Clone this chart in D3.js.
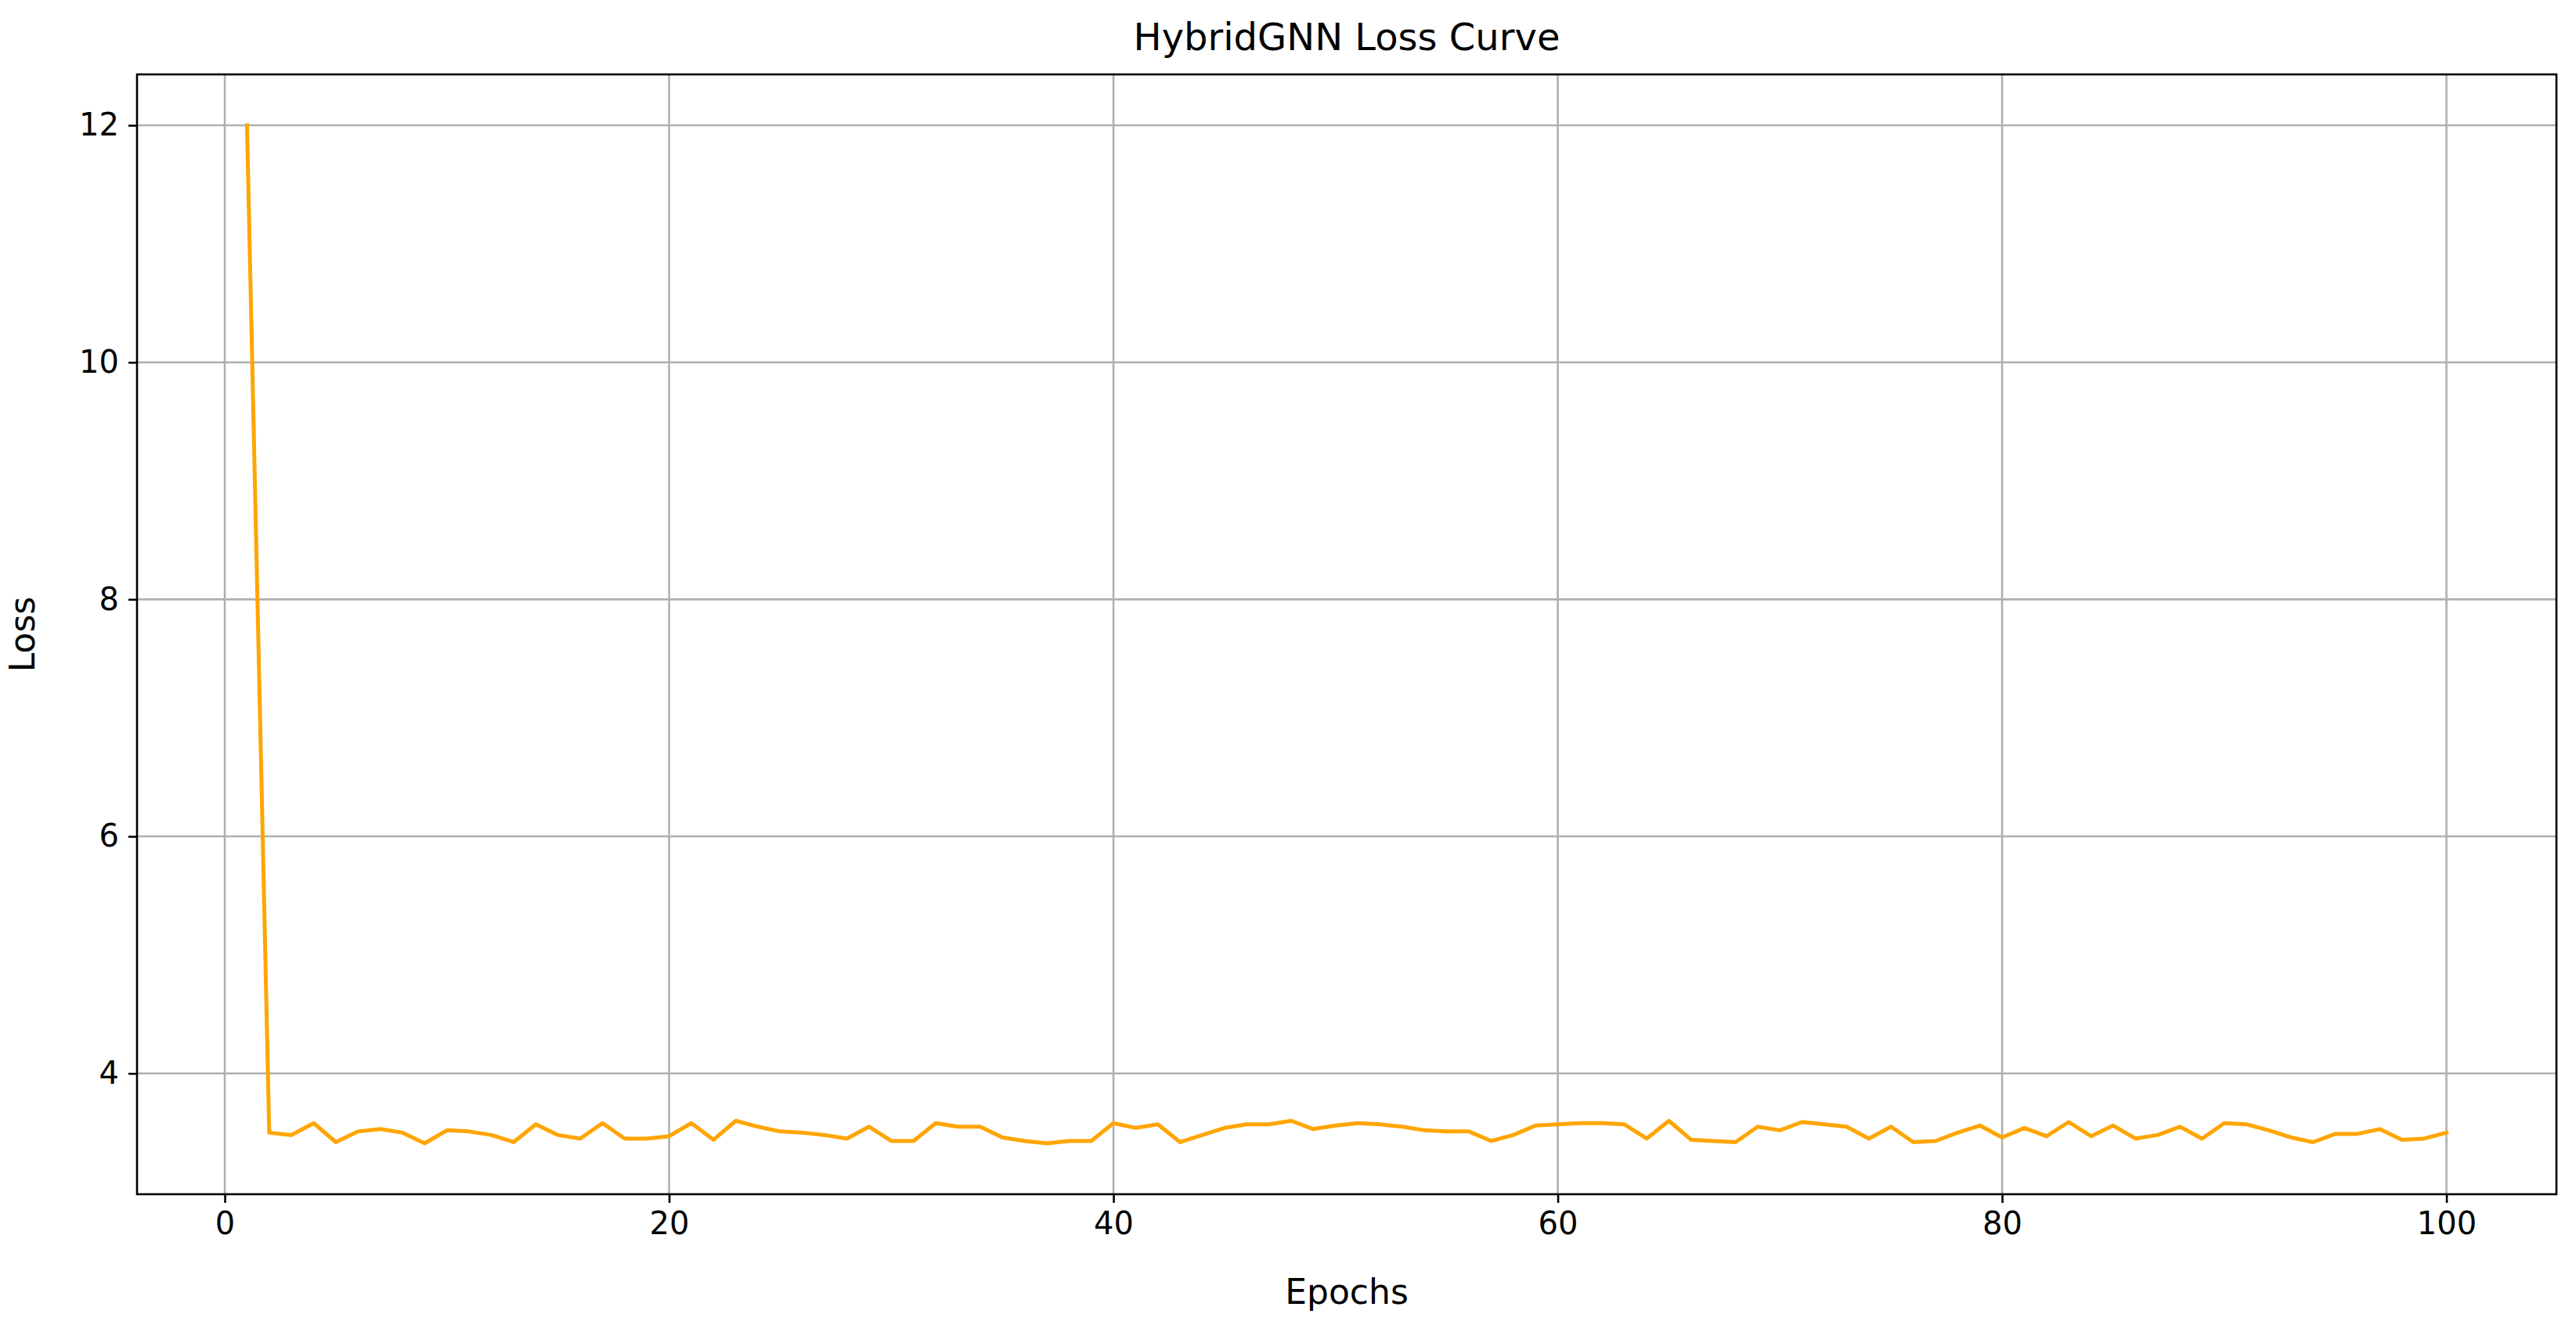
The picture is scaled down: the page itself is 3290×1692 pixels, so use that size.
<!DOCTYPE html>
<html>
<head>
<meta charset="utf-8">
<script src="https://cdn.jsdelivr.net/npm/d3@7"></script>
<style>
  body { margin: 0; background: #fff; }
  text { font-family: "DejaVu Sans", sans-serif; fill: #000; }
</style>
</head>
<body>
<svg id="chart" width="3290" height="1692"></svg>
<script>
// Loss values per epoch
const epochs = d3.range(1, 101);
const loss = [
  12.0, 3.50, 3.48, 3.58, 3.42, 3.51, 3.53, 3.50, 3.41, 3.52,
  3.51, 3.48, 3.42, 3.57, 3.48, 3.45, 3.58, 3.45, 3.45, 3.47,
  3.58, 3.44, 3.60, 3.55, 3.51, 3.50, 3.48, 3.45, 3.55, 3.43,
  3.43, 3.58, 3.55, 3.55, 3.46, 3.43, 3.41, 3.43, 3.43, 3.58,
  3.54, 3.57, 3.42, 3.48, 3.54, 3.57, 3.57, 3.60, 3.53, 3.56,
  3.58, 3.57, 3.55, 3.52, 3.51, 3.51, 3.43, 3.48, 3.56, 3.57,
  3.58, 3.58, 3.57, 3.45, 3.60, 3.44, 3.43, 3.42, 3.55, 3.52,
  3.59, 3.57, 3.55, 3.45, 3.55, 3.42, 3.43, 3.50, 3.56, 3.46,
  3.54, 3.47, 3.59, 3.47, 3.56, 3.45, 3.48, 3.55, 3.45, 3.58,
  3.57, 3.52, 3.46, 3.42, 3.49, 3.49, 3.53, 3.44, 3.45, 3.50
];
const xTicks = [0, 20, 40, 60, 80, 100];
const yTicks = [4, 6, 8, 10, 12];

const margin = { top: 95, right: 25, bottom: 167, left: 175 };
const width = 3290, height = 1692;
const svg = d3.select('#chart');

// matplotlib-style 5% padding
const xPad = (100 - 1) * 0.05;
const yMin = d3.min(loss), yMax = d3.max(loss);
const yPad = (yMax - yMin) * 0.05;

const x = d3.scaleLinear().domain([1 - xPad, 100 + xPad]).range([margin.left, width - margin.right]);
const y = d3.scaleLinear().domain([yMin - yPad, yMax + yPad]).range([height - margin.bottom, margin.top]);

// Grid
svg.append('g').selectAll('line').data(xTicks).enter().append('line')
  .attr('x1', d => x(d)).attr('x2', d => x(d))
  .attr('y1', margin.top).attr('y2', height - margin.bottom)
  .attr('stroke', '#b0b0b0').attr('stroke-width', 2.6);
svg.append('g').selectAll('line').data(yTicks).enter().append('line')
  .attr('x1', margin.left).attr('x2', width - margin.right)
  .attr('y1', d => y(d)).attr('y2', d => y(d))
  .attr('stroke', '#b0b0b0').attr('stroke-width', 2.6);

// Line
const line = d3.line().x((d, i) => x(epochs[i])).y(d => y(d));
svg.append('path').datum(loss)
  .attr('d', line)
  .attr('fill', 'none')
  .attr('stroke', '#ffa500')
  .attr('stroke-width', 5)
  .attr('stroke-linejoin', 'round')
  .attr('stroke-linecap', 'square');

// Axes
const xAxis = d3.axisBottom(x).tickValues(xTicks).tickSize(11).tickPadding(12);
const yAxis = d3.axisLeft(y).tickValues(yTicks).tickSize(11).tickPadding(12);
const gx = svg.append('g').attr('transform', `translate(0,${height - margin.bottom})`).call(xAxis);
const gy = svg.append('g').attr('transform', `translate(${margin.left},0)`).call(yAxis);
[gx, gy].forEach(g => {
  g.select('.domain').remove();
  g.selectAll('line').attr('stroke', '#000').attr('stroke-width', 2.6);
  g.selectAll('text').attr('font-size', 40).attr('font-family', '"DejaVu Sans", sans-serif').attr('fill', '#000');
});

// Frame
svg.append('rect')
  .attr('x', margin.left).attr('y', margin.top)
  .attr('width', width - margin.left - margin.right)
  .attr('height', height - margin.top - margin.bottom)
  .attr('fill', 'none').attr('stroke', '#000').attr('stroke-width', 2.6);

// Labels
const cx = (margin.left + width - margin.right) / 2;
svg.append('text').attr('x', cx).attr('y', 64).attr('text-anchor', 'middle')
  .attr('font-size', 48).text('HybridGNN Loss Curve');
svg.append('text').attr('x', cx).attr('y', 1665).attr('text-anchor', 'middle')
  .attr('font-size', 44).text('Epochs');
svg.append('text').attr('transform', `translate(44,${(margin.top + height - margin.bottom) / 2}) rotate(-90)`)
  .attr('text-anchor', 'middle').attr('font-size', 44).text('Loss');
</script>
</body>
</html>
